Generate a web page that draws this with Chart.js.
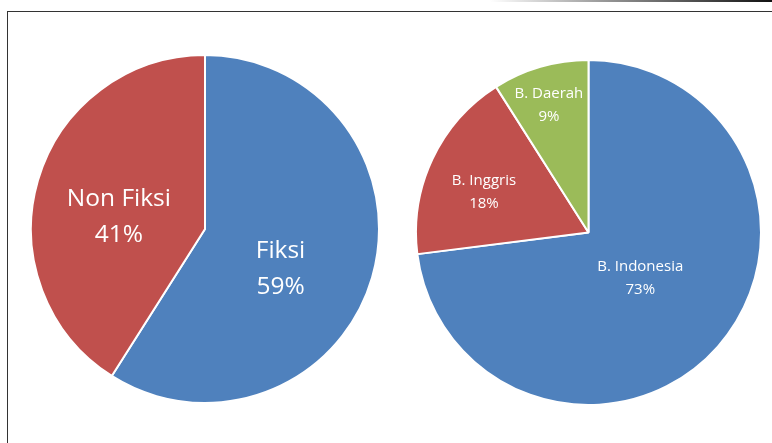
<!DOCTYPE html>
<html>
<head>
<meta charset="utf-8">
<script src="https://cdn.jsdelivr.net/npm/chart.js@4"></script>
<style>
  body { margin: 0; background: #fff; width: 772px; height: 443px; overflow: hidden; position: relative; }
  .topline { position: absolute; left: 490px; top: 0; width: 282px; height: 2px;
             background: linear-gradient(to right, #fff, #999 40%, #111); }
  .frame { position: absolute; left: 7px; top: 11px; width: 800px; height: 500px;
           border-top: 1px solid #333; border-left: 1px solid #333; }
  .box { position: absolute; }
</style>
</head>
<body>
<div class="topline"></div>
<div class="frame"></div>
<div class="box" id="box1" style="left:30px; top:54px; width:350px; height:350px;"><canvas id="pie1"></canvas></div>
<div class="box" id="box2" style="left:415px; top:59px; width:347px; height:347px;"><canvas id="pie2"></canvas></div>
<script>
const genreLabels = ['Fiksi', 'Non Fiksi'];
const genreValues = [59, 41];
const langLabels = ['B. Indonesia', 'B. Inggris', 'B. Daerah'];
const langValues = [73, 18, 9];

const blue = '#4F81BD', red = '#C0504D', green = '#9BBB59';

// draws "name\nNN%" inside each slice
const sliceLabels = {
  id: 'sliceLabels',
  afterDatasetsDraw(chart, args, opts) {
    const ctx = chart.ctx;
    const meta = chart.getDatasetMeta(0);
    const ds = chart.data.datasets[0];
    const total = ds.data.reduce((a, b) => a + b, 0);
    ctx.save();
    ctx.fillStyle = '#fff';
    ctx.textAlign = 'center';
    ctx.textBaseline = 'middle';
    ctx.font = opts.size + 'px "Open Sans", sans-serif';
    meta.data.forEach((arc, i) => {
      const p = arc.getProps(['x', 'y', 'startAngle', 'endAngle', 'outerRadius'], true);
      const mid = (p.startAngle + p.endAngle) / 2 + (opts.shift[i] || 0);
      const r = p.outerRadius * opts.radius[i];
      const x = p.x + Math.cos(mid) * r;
      const y = p.y + Math.sin(mid) * r;
      const pct = Math.round(ds.data[i] / total * 100) + '%';
      ctx.fillText(chart.data.labels[i], x, y - opts.gap / 2);
      ctx.fillText(pct, x, y + opts.gap / 2);
    });
    ctx.restore();
  }
};

function makePie(id, labels, values, colors, labelOpts) {
  new Chart(document.getElementById(id).getContext('2d'), {
    type: 'pie',
    data: {
      labels: labels,
      datasets: [{
        data: values,
        backgroundColor: colors,
        borderColor: '#fff',
        borderWidth: 2
      }]
    },
    options: {
      responsive: true,
      maintainAspectRatio: false,
      animation: false,
      layout: { padding: 0 },
      plugins: {
        legend: { display: false },
        tooltip: { enabled: false },
        sliceLabels: labelOpts
      }
    },
    plugins: [sliceLabels]
  });
}

makePie('pie1', genreLabels, genreValues, [blue, red],
  { size: 24.5, gap: 36, radius: [0.49, 0.5], shift: [0.2, -0.14] });
makePie('pie2', langLabels, langValues, [blue, red, green],
  { size: 15, gap: 23, radius: [0.4, 0.65, 0.77], shift: [0, -0.07, -0.02] });
</script>
</body>
</html>
